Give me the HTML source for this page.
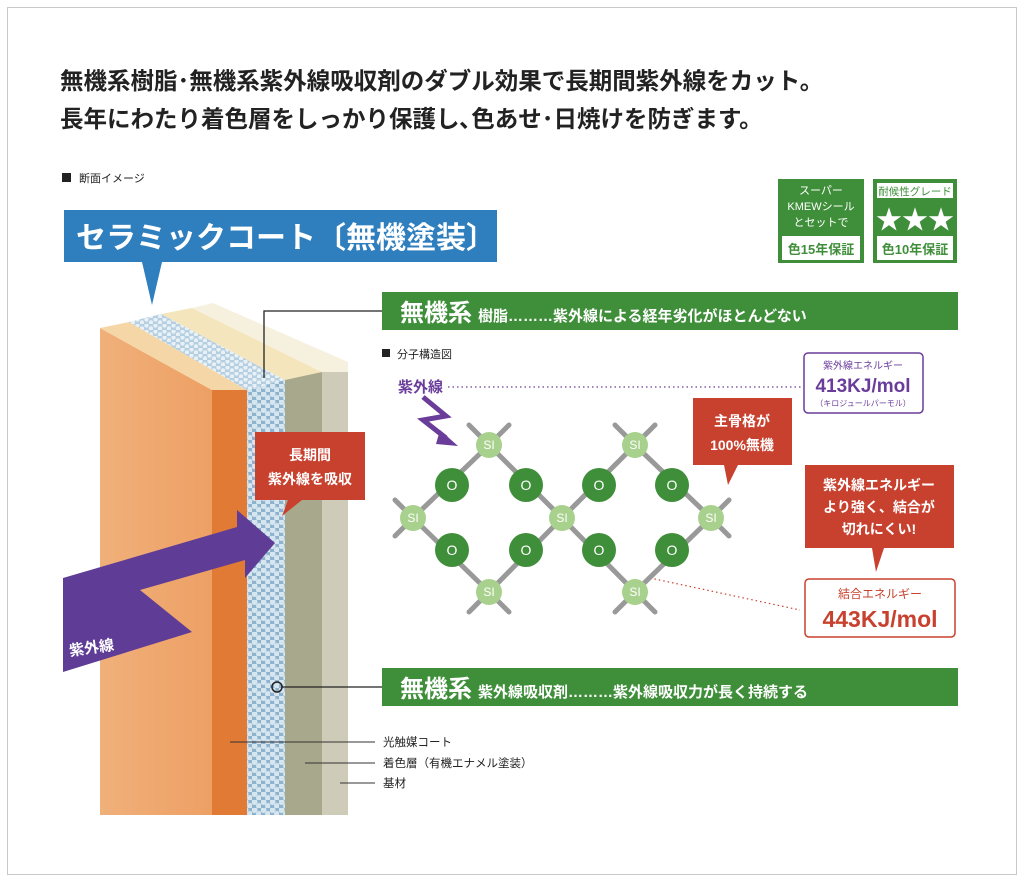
<!DOCTYPE html>
<html><head><meta charset="utf-8"><style>
body{margin:0;background:#fff;}
svg{display:block;font-family:"Liberation Sans","Noto Sans CJK JP",sans-serif;}
</style></head><body>
<svg width="1024" height="882" viewBox="0 0 1024 882" xmlns="http://www.w3.org/2000/svg">
<defs>
<pattern id="bd" width="9" height="8" patternUnits="userSpaceOnUse">
<rect width="9" height="8" fill="#8fb3cc"/>
<circle cx="2.5" cy="2" r="3" fill="#d6e6f0"/><circle cx="7" cy="6" r="3" fill="#d6e6f0"/>
</pattern>
<pattern id="bt" width="9" height="6" patternUnits="userSpaceOnUse">
<rect width="9" height="6" fill="#b5cfe0"/>
<circle cx="2.5" cy="1.5" r="2.2" fill="#e8f1f7"/><circle cx="7" cy="4.5" r="2.2" fill="#e8f1f7"/>
</pattern>
<linearGradient id="lo" x1="0" x2="1"><stop offset="0" stop-color="#f0b07a"/><stop offset="1" stop-color="#eda064"/></linearGradient>
</defs>
<rect x="7.5" y="7.5" width="1009" height="867" fill="#fff" stroke="#c8c8c8"/>
<text x="60" y="89" font-size="23.5" font-weight="bold" fill="#222">無機系樹脂･無機系紫外線吸収剤のダブル効果で長期間紫外線をカット。</text>
<text x="60" y="127" font-size="23.5" font-weight="bold" fill="#222">長年にわたり着色層をしっかり保護し､色あせ･日焼けを防ぎます。</text>
<rect x="62" y="173" width="9" height="9" fill="#222"/>
<text x="79" y="182" font-size="11" fill="#222">断面イメージ</text>
<rect x="64" y="210" width="433" height="52" fill="#2f7fbf"/>
<polygon points="142,262 162,262 152,305" fill="#2f7fbf"/>
<text x="76" y="248" font-size="30" font-weight="bold" fill="#fff">セラミックコート〔無機塗装〕</text>
<rect x="778" y="179" width="86" height="84" fill="#3f8f3a"/>
<rect x="782" y="236" width="78" height="24" fill="#fff"/>
<text x="821" y="194" font-size="11" fill="#fff" text-anchor="middle">スーパー</text>
<text x="821" y="210" font-size="11" fill="#fff" text-anchor="middle">KMEWシール</text>
<text x="821" y="226" font-size="11" fill="#fff" text-anchor="middle">とセットで</text>
<text x="821" y="254" font-size="13" font-weight="bold" fill="#3f8f3a" text-anchor="middle">色15年保証</text>
<rect x="873" y="179" width="84" height="84" fill="#3f8f3a"/>
<rect x="877" y="183" width="76" height="15" fill="#fff"/>
<rect x="877" y="236" width="76" height="24" fill="#fff"/>
<text x="915" y="195" font-size="10.5" fill="#3f8f3a" text-anchor="middle">耐候性グレード</text>
<text x="915" y="229" font-size="26" fill="#fff" text-anchor="middle">★★★</text>
<text x="915" y="254" font-size="13" font-weight="bold" fill="#3f8f3a" text-anchor="middle">色10年保証</text>
<polygon points="100,328 212,390 212,815 100,815" fill="url(#lo)"/>
<rect x="212" y="390" width="35" height="425" fill="#e07a35"/>
<polygon points="247,390 285,380 285,815 247,815" fill="url(#bd)"/>
<rect x="285" y="372" width="37" height="443" fill="#a8a88c"/>
<rect x="322" y="372" width="26" height="443" fill="#cfcbb9"/>
<polygon points="100,328 129,322 247,390 212,390" fill="#f5d6a6"/>
<polygon points="129,322 161,314 285,380 247,390" fill="url(#bt)"/>
<polygon points="161,314 192,308 322,372 285,380" fill="#f4e5bd"/>
<polygon points="192,308 213,303 348,362 348,372 322,372" fill="#f6f1de"/>
<rect x="255" y="432" width="110" height="68" fill="#c8412f"/>
<polygon points="288,500 302,500 282,516" fill="#c8412f"/>
<text x="310" y="460" font-size="14" font-weight="bold" fill="#fff" text-anchor="middle">長期間</text>
<text x="310" y="484" font-size="14" font-weight="bold" fill="#fff" text-anchor="middle">紫外線を吸収</text>
<polygon points="63,578 237,527 237,510 275,543 245,578 245,560 140,590 192,632 63,672" fill="#5f3d96"/>
<text x="70" y="656" font-size="15" font-weight="bold" fill="#fff" transform="rotate(-8 70 656)">紫外線</text>
<polyline points="264,378 264,311 382,311" fill="none" stroke="#222" stroke-width="1.3"/>
<circle cx="277" cy="687" r="5" fill="none" stroke="#222" stroke-width="1.5"/>
<line x1="282" y1="687" x2="382" y2="687" stroke="#222" stroke-width="1.3"/>
<rect x="382" y="292" width="576" height="38" fill="#3f8f3a"/>
<text x="400" y="321" font-size="24" font-weight="bold" fill="#fff">無機系<tspan font-size="15" dx="6">樹脂………紫外線による経年劣化がほとんどない</tspan></text>
<rect x="382" y="668" width="576" height="38" fill="#3f8f3a"/>
<text x="400" y="697" font-size="24" font-weight="bold" fill="#fff">無機系<tspan font-size="15" dx="6">紫外線吸収剤………紫外線吸収力が長く持続する</tspan></text>
<rect x="382" y="349" width="8" height="8" fill="#222"/>
<text x="397" y="358" font-size="11" fill="#222">分子構造図</text>
<text x="398" y="392" font-size="15" font-weight="bold" fill="#6a3d9a">紫外線</text>
<line x1="448" y1="387" x2="803" y2="387" stroke="#6a3d9a" stroke-width="1.2" stroke-dasharray="1.5,3"/>
<polyline points="423,397 446,416 423,420 446,438" fill="none" stroke="#6a3d9a" stroke-width="5" stroke-linejoin="miter"/>
<polygon points="440,430 458,446 436,444" fill="#6a3d9a"/>
<line x1="650" y1="578" x2="800" y2="610" stroke="#c8412f" stroke-width="1.2" stroke-dasharray="1.5,3"/>
<g stroke="#999" stroke-width="5" stroke-linecap="round">
<line x1="413" y1="518" x2="489" y2="445"/><line x1="489" y1="445" x2="562" y2="518"/><line x1="562" y1="518" x2="635" y2="445"/><line x1="635" y1="445" x2="711" y2="518"/>
<line x1="413" y1="518" x2="489" y2="592"/><line x1="489" y1="592" x2="562" y2="518"/><line x1="562" y1="518" x2="635" y2="592"/><line x1="635" y1="592" x2="711" y2="518"/>
<line x1="489" y1="445" x2="469" y2="425"/><line x1="489" y1="445" x2="509" y2="425"/>
<line x1="635" y1="445" x2="615" y2="425"/><line x1="635" y1="445" x2="655" y2="425"/>
<line x1="489" y1="592" x2="469" y2="612"/><line x1="489" y1="592" x2="509" y2="612"/>
<line x1="635" y1="592" x2="615" y2="612"/><line x1="635" y1="592" x2="655" y2="612"/>
<line x1="413" y1="518" x2="395" y2="500"/><line x1="413" y1="518" x2="395" y2="536"/>
<line x1="711" y1="518" x2="729" y2="500"/><line x1="711" y1="518" x2="729" y2="536"/>
</g>
<g fill="#3f8f3a">
<circle cx="452" cy="485" r="17"/><circle cx="526" cy="485" r="17"/><circle cx="599" cy="485" r="17"/><circle cx="672" cy="485" r="17"/>
<circle cx="452" cy="550" r="17"/><circle cx="526" cy="550" r="17"/><circle cx="599" cy="550" r="17"/><circle cx="672" cy="550" r="17"/>
</g>
<g fill="#a9d18e">
<circle cx="489" cy="445" r="13"/><circle cx="635" cy="445" r="13"/><circle cx="413" cy="518" r="13"/><circle cx="562" cy="518" r="13"/><circle cx="711" cy="518" r="13"/><circle cx="489" cy="592" r="13"/><circle cx="635" cy="592" r="13"/>
</g>
<g font-size="14" fill="#fff" text-anchor="middle">
<text x="452" y="490">O</text><text x="526" y="490">O</text><text x="599" y="490">O</text><text x="672" y="490">O</text>
<text x="452" y="555">O</text><text x="526" y="555">O</text><text x="599" y="555">O</text><text x="672" y="555">O</text>
</g>
<g font-size="12" fill="#fff" text-anchor="middle">
<text x="489" y="449">SI</text><text x="635" y="449">SI</text><text x="413" y="522">SI</text><text x="562" y="522">SI</text><text x="711" y="522">SI</text><text x="489" y="596">SI</text><text x="635" y="596">SI</text>
</g>
<rect x="804" y="353" width="119" height="60" rx="4" fill="#fff" stroke="#6a3d9a" stroke-width="1.5"/>
<text x="863" y="369" font-size="10" fill="#6a3d9a" text-anchor="middle">紫外線エネルギー</text>
<text x="863" y="392" font-size="19" font-weight="bold" fill="#6a3d9a" text-anchor="middle">413KJ/mol</text>
<text x="863" y="406" font-size="8" fill="#6a3d9a" text-anchor="middle">（キロジュールパーモル）</text>
<rect x="693" y="398" width="99" height="67" fill="#c8412f"/>
<polygon points="724,465 738,465 728,485" fill="#c8412f"/>
<text x="742" y="426" font-size="14" font-weight="bold" fill="#fff" text-anchor="middle">主骨格が</text>
<text x="742" y="450" font-size="14" font-weight="bold" fill="#fff" text-anchor="middle">100%無機</text>
<rect x="805" y="465" width="149" height="83" fill="#c8412f"/>
<polygon points="872,548 884,548 876,572" fill="#c8412f"/>
<text x="879" y="490" font-size="14" font-weight="bold" fill="#fff" text-anchor="middle">紫外線エネルギー</text>
<text x="879" y="512" font-size="14" font-weight="bold" fill="#fff" text-anchor="middle">より強く、結合が</text>
<text x="879" y="534" font-size="14" font-weight="bold" fill="#fff" text-anchor="middle">切れにくい!</text>
<rect x="805" y="579" width="150" height="58" rx="4" fill="#fff" stroke="#c8412f" stroke-width="1.5"/>
<text x="880" y="598" font-size="12" fill="#c8412f" text-anchor="middle">結合エネルギー</text>
<text x="880" y="627" font-size="23" font-weight="bold" fill="#c8412f" text-anchor="middle">443KJ/mol</text>
<line x1="230" y1="742" x2="375" y2="742" stroke="#333" stroke-width="1"/>
<line x1="305" y1="763" x2="375" y2="763" stroke="#333" stroke-width="1"/>
<line x1="340" y1="783" x2="375" y2="783" stroke="#333" stroke-width="1"/>
<text x="383" y="746" font-size="11.5" fill="#222">光触媒コート</text>
<text x="383" y="767" font-size="11.5" fill="#222">着色層（有機エナメル塗装）</text>
<text x="383" y="787" font-size="11.5" fill="#222">基材</text>
</svg>
</body></html>
